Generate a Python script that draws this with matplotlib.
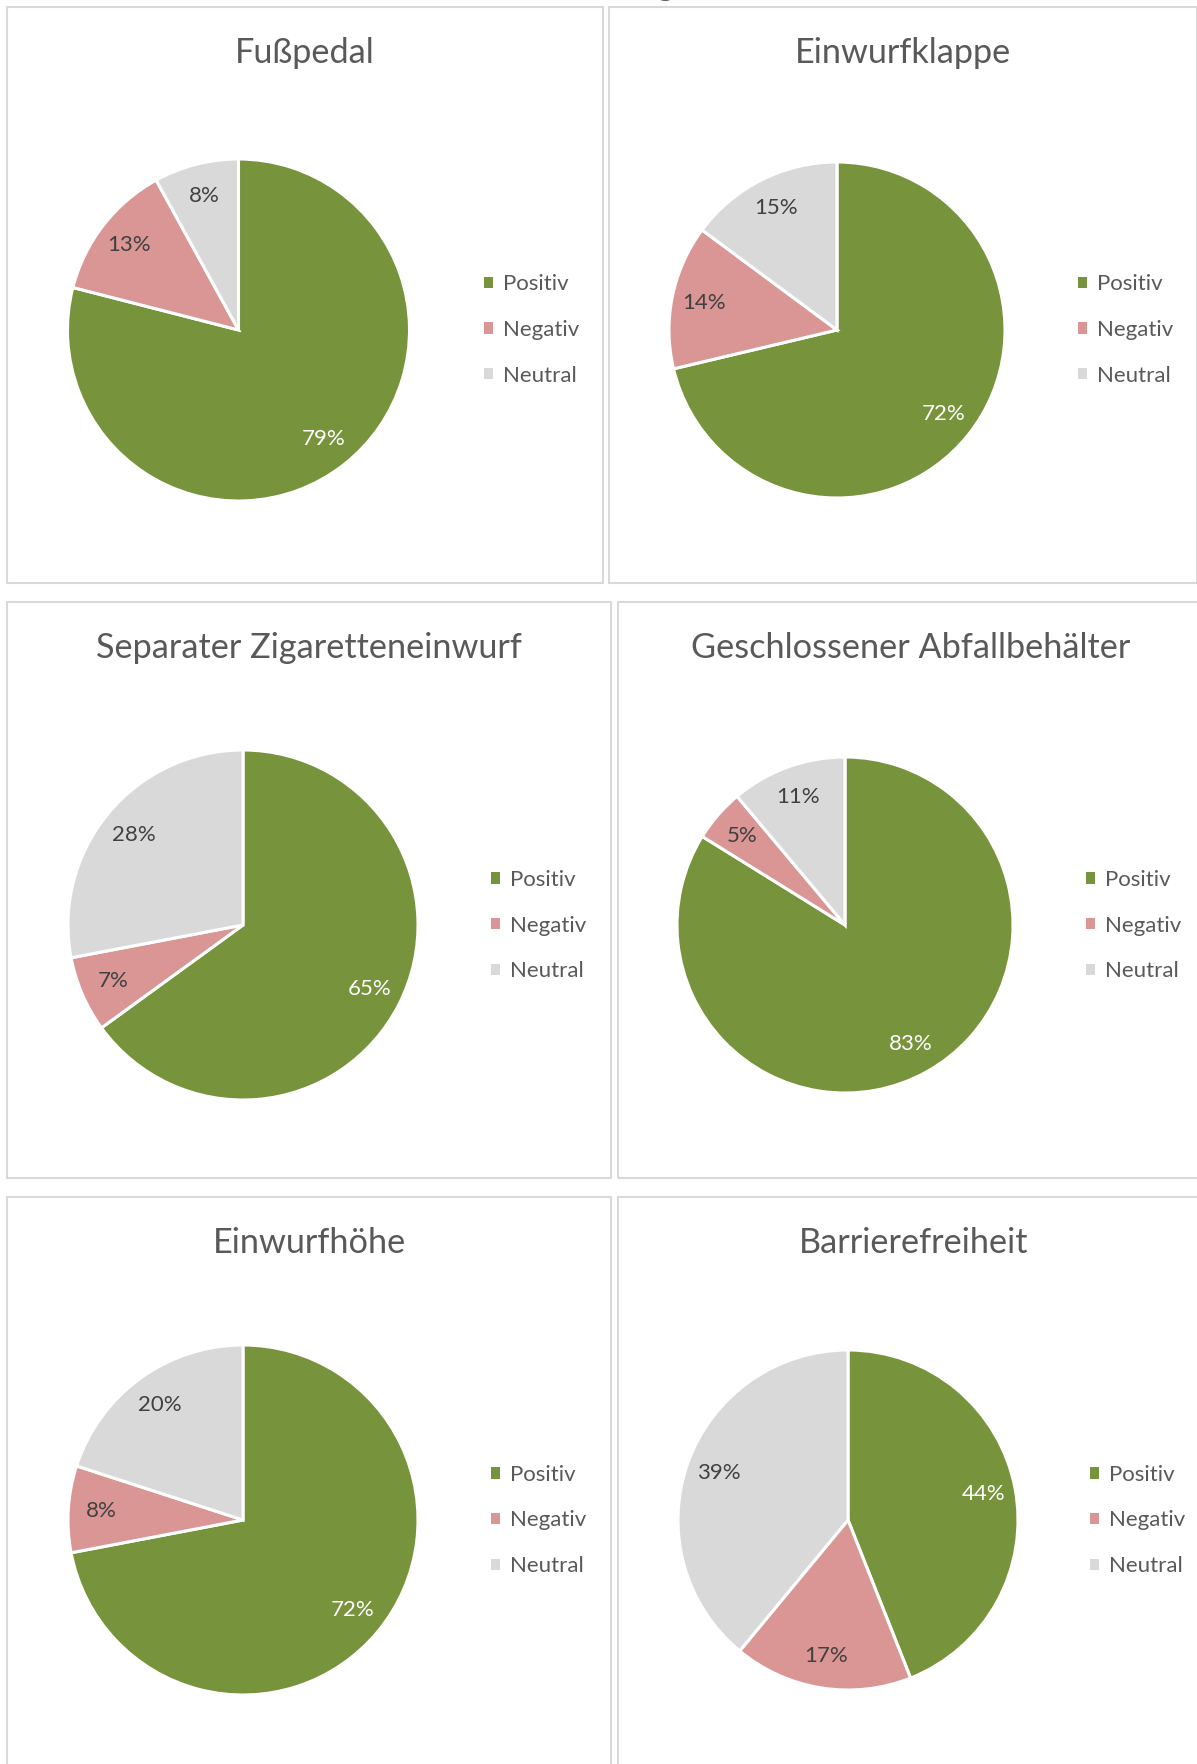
import math
import matplotlib
matplotlib.use("Agg")
import matplotlib.pyplot as plt
from matplotlib.patches import Rectangle

plt.rcParams['font.family'] = ['Lato', 'DejaVu Sans']

# ---- data ----
titles = ["Fußpedal", "Einwurfklappe", "Separater Zigaretteneinwurf",
          "Geschlossener Abfallbehälter", "Einwurfhöhe", "Barrierefreiheit"]
categories = ["Positiv", "Negativ", "Neutral"]
fusspedal = [79, 13, 8]
einwurfklappe = [72, 14, 15]
zigaretteneinwurf = [65, 7, 28]
abfallbehaelter = [83, 5, 11]
einwurfhoehe = [72, 8, 20]
barrierefreiheit = [44, 17, 39]
series = [fusspedal, einwurfklappe, zigaretteneinwurf, abfallbehaelter,
          einwurfhoehe, barrierefreiheit]

colors = ["#77933C", "#D99694", "#D9D9D9"]
label_colors = ["white", "#404040", "#404040"]

W, H = 1197, 1764
fig = plt.figure(figsize=(W / 100, H / 100), dpi=100)
fig.patch.set_facecolor("white")

def fx(x):
    return x / W

def fy(y):
    return 1 - y / H

# layout (pixel coords, origin top-left)
panels = [(7, 7, 603, 583), (609, 7, 1197, 583),
          (7, 602, 611, 1178), (618, 602, 1204, 1178),
          (7, 1197, 611, 1775), (618, 1197, 1209, 1775)]
pies = [(238.5, 330, 171), (837, 330, 168),
        (243, 925, 175), (845, 925, 168),
        (243, 1520, 175), (848, 1520, 170)]
legend_x = [484, 1078, 491, 1086, 491, 1090]
legend_y = [330, 330, 925.5, 925.5, 1520.5, 1520.5]

# cut-off overall title (only a descender visible)
fig.text(fx(666), fy(-5), "g", ha="center", va="baseline",
         fontsize=24, color="#595959")

for i in range(6):
    x0, y0, x1, y1 = panels[i]
    fig.add_artist(Rectangle((fx(x0), fy(y1)), fx(x1) - fx(x0), fy(y0) - fy(y1),
                             transform=fig.transFigure, fill=False,
                             edgecolor="#D9D9D9", linewidth=1.5))
    fig.text(fx((x0 + x1) / 2), fy(y0 + 46), titles[i], ha="center", va="center",
             fontsize=24.7, color="#595959")

    cx, cy, r = pies[i]
    ax = fig.add_axes([fx(cx - r), fy(cy + r), 2 * r / W, 2 * r / H])
    wedges, _ = ax.pie(series[i], colors=colors, startangle=90, counterclock=False,
                       radius=1.0, wedgeprops=dict(edgecolor="white", linewidth=2.2))
    ax.set_xlim(-1, 1)
    ax.set_ylim(-1, 1)
    ax.set_aspect("equal")
    ax.axis("off")
    for w, v, lc in zip(wedges, series[i], label_colors):
        ang = math.radians((w.theta1 + w.theta2) / 2)
        ax.text(0.81 * math.cos(ang), 0.81 * math.sin(ang), f"{v}%",
                ha="center", va="center", fontsize=16, color=lc)

    leg = ax.legend(wedges, categories, loc="center left",
                    bbox_to_anchor=(fx(legend_x[i]), fy(legend_y[i])),
                    bbox_transform=fig.transFigure, frameon=False,
                    fontsize=16, handlelength=0.4, handleheight=0.4,
                    handletextpad=0.45, labelspacing=1.15, borderpad=0,
                    borderaxespad=0)
    for t in leg.get_texts():
        t.set_color("#595959")
    for h in leg.legend_handles:
        h.set_edgecolor("none")

fig.savefig("out.png", dpi=100, facecolor="white")
